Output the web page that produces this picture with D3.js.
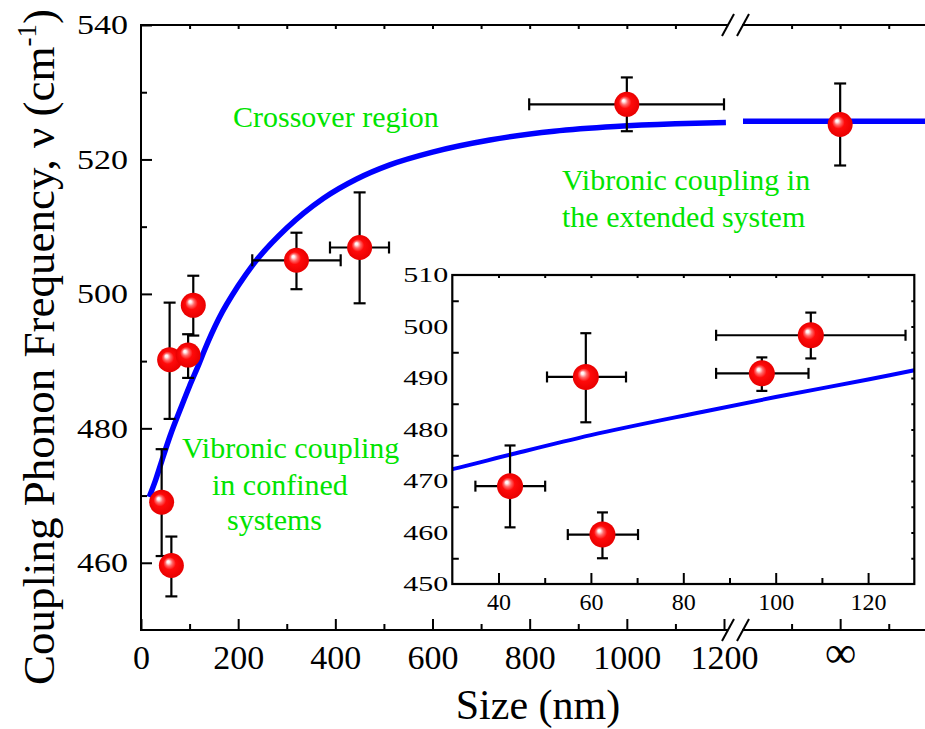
<!DOCTYPE html>
<html>
<head>
<meta charset="utf-8">
<script src="https://cdn.jsdelivr.net/npm/d3@7"></script>
<style>
  body { margin: 0; background: #fff; }
</style>
</head>
<body>
<div id="chart"></div>
<script>
// measured points (size in nm, frequency in cm-1); infinity plotted at 1500
const sizes    = [42.5, 62.5, 58.9, 97.0, 107.6, 320, 450, 1000, 1500];
const freqs    = [469.0, 459.6, 490.2, 490.9, 498.3, 505.0, 506.9, 528.2, 525.2];
const freqLow  = [461.0, 455.0, 481.4, 487.5, 493.8, 500.7, 498.6, 524.2, 519.1];
const freqHigh = [476.9, 463.9, 498.7, 494.0, 502.7, 509.1, 515.1, 532.2, 531.3];
const sizeLow  = [35.0, 55.0, 50.5, 87.1, 87.1, 229, 389, 799, null];
const sizeHigh = [50.1, 70.2, 67.6, 107.1, 128.1, 411, 510.5, 1200, null];

// fitted curve
const fitSize = [17, 30, 42.5, 60, 84, 100, 120, 130, 160, 200, 231, 300, 375, 444, 512, 600, 718, 850, 976, 1100, 1210];
const fitFreq = [469.8, 472.3, 475.1, 478.9, 483.4, 486.3, 489.7, 491.5, 496.3, 501.2, 504.4, 509.8, 514.2, 517.1, 519.2, 521.1, 522.9, 524.2, 524.9, 525.3, 525.5];
const limitSize = [1300, 1680];
const limitFreq = [525.7, 525.7];

const xTickValues = [0, 200, 400, 600, 800, 1000, 1200, 1500];
const xTickLabels = ["0", "200", "400", "600", "800", "1000", "1200", "\u221E"];
const xMinorValues = [100, 300, 500, 700, 900, 1100, 1400, 1600];
const yTickValues = [460, 480, 500, 520, 540];
const yMinorValues = [470, 490, 510, 530];

const insetXTicks = [40, 60, 80, 100, 120];
const insetXMinor = [50, 70, 90, 110];
const insetYTicks = [450, 460, 470, 480, 490, 500, 510];

const points = sizes.map((s, i) => ({
  size: s, freq: freqs[i], lo: freqLow[i], hi: freqHigh[i], sLo: sizeLow[i], sHi: sizeHigh[i]
}));
const fit = fitSize.map((s, i) => ({ size: s, freq: fitFreq[i] }));
const limit = limitSize.map((s, i) => ({ size: s, freq: limitFreq[i] }));

const width = 925, height = 729;
const green = "#00e400";
const serif = "'Liberation Serif', 'Times New Roman', serif";

const svg = d3.select("#chart").append("svg")
  .attr("width", width).attr("height", height)
  .attr("font-family", serif);

const defs = svg.append("defs");
const grad = defs.append("radialGradient").attr("id", "ball")
  .attr("cx", "50%").attr("cy", "50%").attr("r", "50%")
  .attr("fx", "36%").attr("fy", "34%");
[[0, "#ffffff"], [0.1, "#fff0f0"], [0.28, "#ff6a6a"], [0.5, "#ff0a0a"], [1, "#e80000"]]
  .forEach(([o, c]) => grad.append("stop").attr("offset", o).attr("stop-color", c));

// ---------- main plot ----------
const x = d3.scaleLinear().domain([0, 1200, 1300, 1680]).range([141, 724, 743, 927.6]);
const y = d3.scaleLinear().domain([450, 540]).range([630, 25]);

const main = svg.append("g");

// curve
const line = d3.line().x(d => x(d.size)).y(d => y(d.freq)).curve(d3.curveMonotoneX);
main.append("path").datum(fit).attr("d", line)
  .attr("fill", "none").attr("stroke", "#0000ff").attr("stroke-width", 5.5);
main.append("path").datum(limit).attr("d", line)
  .attr("fill", "none").attr("stroke", "#0000ff").attr("stroke-width", 5.5);

// axes
const bottomMajor = main.append("g").attr("transform", "translate(0,630)")
  .call(d3.axisBottom(x).tickValues(xTickValues)
    .tickFormat((d, i) => xTickLabels[i]).tickSizeInner(-11).tickSizeOuter(0).tickPadding(15));
main.append("g").attr("transform", "translate(0,630)")
  .call(d3.axisBottom(x).tickValues(xMinorValues).tickFormat("").tickSizeInner(-6).tickSizeOuter(0));
main.append("g").attr("transform", "translate(0,25)")
  .call(d3.axisTop(x).tickValues(d3.range(100, 1200, 100).concat([1400, 1500, 1600]))
    .tickFormat("").tickSizeInner(-4).tickSizeOuter(0));
const leftMajor = main.append("g").attr("transform", "translate(141,0)")
  .call(d3.axisLeft(y).tickValues(yTickValues).tickSizeInner(-11).tickSizeOuter(0).tickPadding(13));
main.append("g").attr("transform", "translate(141,0)")
  .call(d3.axisLeft(y).tickValues(yMinorValues).tickFormat("").tickSizeInner(-6).tickSizeOuter(0));

main.selectAll(".domain").remove();
main.selectAll(".tick line").attr("stroke", "#000").attr("stroke-width", 2);
bottomMajor.attr("font-family", serif);
leftMajor.attr("font-family", serif);
bottomMajor.selectAll("text").attr("font-size", 34).attr("fill", "#000");
bottomMajor.selectAll("text").filter(d => d === 1500).attr("font-size", 44).attr("dy", "0.5em");
leftMajor.selectAll("text").attr("font-size", 28).attr("fill", "#000")
  .attr("textLength", 51).attr("lengthAdjust", "spacingAndGlyphs");

// frame lines with break
const frame = main.append("g").attr("stroke", "#000").attr("stroke-width", 2).attr("fill", "none");
frame.append("line").attr("x1", 141).attr("x2", 141).attr("y1", 24).attr("y2", 631);
[25, 630].forEach(yy => {
  frame.append("line").attr("x1", 140).attr("x2", 728).attr("y1", yy).attr("y2", yy);
  frame.append("line").attr("x1", 742).attr("x2", width).attr("y1", yy).attr("y2", yy);
  frame.append("line").attr("x1", 722).attr("x2", 734).attr("y1", yy + 11).attr("y2", yy - 11);
  frame.append("line").attr("x1", 737).attr("x2", 749).attr("y1", yy + 11).attr("y2", yy - 11);
});

// error bars + markers
function drawPoints(g, xs, ys, pts, r, cap, showX) {
  const eb = g.append("g").attr("stroke", "#000").attr("stroke-width", 2.2);
  pts.forEach(d => {
    const cx = xs(d.size);
    eb.append("line").attr("x1", cx).attr("x2", cx).attr("y1", ys(d.lo)).attr("y2", ys(d.hi));
    eb.append("line").attr("x1", cx - cap).attr("x2", cx + cap).attr("y1", ys(d.lo)).attr("y2", ys(d.lo));
    eb.append("line").attr("x1", cx - cap).attr("x2", cx + cap).attr("y1", ys(d.hi)).attr("y2", ys(d.hi));
    if (showX(d)) {
      const cy = ys(d.freq);
      eb.append("line").attr("x1", xs(d.sLo)).attr("x2", xs(d.sHi)).attr("y1", cy).attr("y2", cy);
      eb.append("line").attr("x1", xs(d.sLo)).attr("x2", xs(d.sLo)).attr("y1", cy - cap).attr("y2", cy + cap);
      eb.append("line").attr("x1", xs(d.sHi)).attr("x2", xs(d.sHi)).attr("y1", cy - cap).attr("y2", cy + cap);
    }
  });
  g.selectAll("circle.pt").data(pts).enter().append("circle").attr("class", "pt")
    .attr("cx", d => xs(d.size)).attr("cy", d => ys(d.freq)).attr("r", r)
    .attr("fill", "url(#ball)");
}
drawPoints(main.append("g"), x, y, points, 12.5, 6, d => d.sLo !== null && d.size > 200);

// annotations
const notes = main.append("g").attr("fill", green).attr("font-size", 30).attr("font-family", serif);
notes.append("text").attr("x", 233).attr("y", 127).text("Crossover region");
notes.append("text").attr("x", 562).attr("y", 190).text("Vibronic coupling in");
notes.append("text").attr("x", 562).attr("y", 227).text("the extended system");
notes.append("text").attr("x", 182).attr("y", 458).text("Vibronic coupling");
notes.append("text").attr("x", 212).attr("y", 495).text("in confined");
notes.append("text").attr("x", 227).attr("y", 530).text("systems");

// axis titles
svg.append("text").attr("x", 538).attr("y", 719).attr("text-anchor", "middle")
  .attr("font-size", 42).text("Size (nm)");
const yt = svg.append("text").attr("transform", "translate(54,347) rotate(-90)")
  .attr("text-anchor", "middle").attr("font-size", 45);
yt.append("tspan").text("Coupling Phonon Frequency, \u03BD (cm");
yt.append("tspan").attr("font-size", 27).attr("dy", -18).text("-1");
yt.append("tspan").attr("dy", 18).text(")");

// ---------- inset ----------
const xi = d3.scaleLinear().domain([30, 130]).range([452.3, 914.3]);
const yi = d3.scaleLinear().domain([450, 510]).range([584, 275]);
const inset = svg.append("g");
inset.append("rect").attr("x", 452.3).attr("y", 275).attr("width", 462).attr("height", 309)
  .attr("fill", "#fff");

inset.append("clipPath").attr("id", "insetClip").append("rect")
  .attr("x", 452.3).attr("y", 275).attr("width", 462).attr("height", 309);
const insetLine = d3.line().x(d => xi(d.size)).y(d => yi(d.freq)).curve(d3.curveMonotoneX);
inset.append("path").datum(fit.filter(d => d.size <= 200)).attr("d", insetLine)
  .attr("clip-path", "url(#insetClip)")
  .attr("fill", "none").attr("stroke", "#0000ff").attr("stroke-width", 4);

const ibMajor = inset.append("g").attr("transform", "translate(0,584)")
  .call(d3.axisBottom(xi).tickValues(insetXTicks).tickSizeInner(-11).tickSizeOuter(0).tickPadding(9));
inset.append("g").attr("transform", "translate(0,584)")
  .call(d3.axisBottom(xi).tickValues(insetXMinor).tickFormat("").tickSizeInner(-6).tickSizeOuter(0));
inset.append("g").attr("transform", "translate(0,275)")
  .call(d3.axisTop(xi).tickValues(d3.range(40, 130, 10)).tickFormat("").tickSizeInner(-3).tickSizeOuter(0));
const ilMajor = inset.append("g").attr("transform", "translate(452.3,0)")
  .call(d3.axisLeft(yi).tickValues(insetYTicks).tickSizeInner(0).tickSizeOuter(0).tickPadding(4));
inset.append("g").attr("transform", "translate(452.3,0)")
  .call(d3.axisLeft(yi).tickValues(d3.range(455, 510, 10)).tickFormat("").tickSizeInner(-6.5).tickSizeOuter(0));
inset.append("g").attr("transform", "translate(914.3,0)")
  .call(d3.axisRight(yi).tickValues(d3.range(455, 510, 5)).tickFormat("").tickSizeInner(-3).tickSizeOuter(0));
inset.selectAll(".domain").remove();
inset.selectAll(".tick line").attr("stroke", "#000").attr("stroke-width", 2);
ibMajor.attr("font-family", serif);
ilMajor.attr("font-family", serif);
ibMajor.selectAll("text").attr("font-size", 24).attr("fill", "#000");
ilMajor.selectAll("text").attr("font-size", 21).attr("fill", "#000")
  .attr("textLength", 45).attr("lengthAdjust", "spacingAndGlyphs");

inset.append("rect").attr("x", 452.3).attr("y", 275).attr("width", 462).attr("height", 309)
  .attr("fill", "none").attr("stroke", "#000").attr("stroke-width", 2.2);

drawPoints(inset.append("g"), xi, yi, points.filter(d => d.size < 130), 13, 5.5, d => true);
</script>
</body>
</html>
